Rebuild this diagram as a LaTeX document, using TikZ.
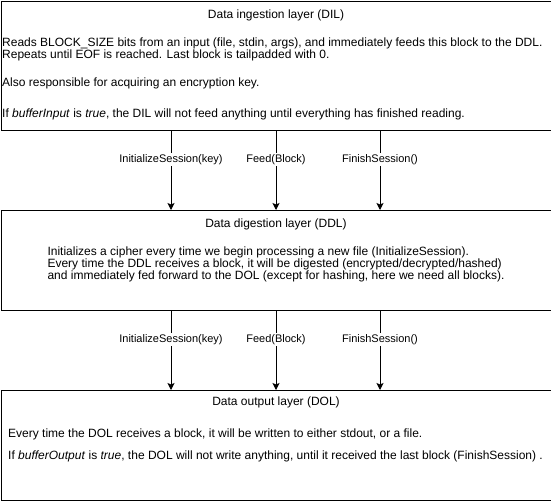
\documentclass[tikz,border=0pt]{standalone}
\usepackage{fontspec}
\setmainfont{Liberation Sans}
\usetikzlibrary{arrows.meta}
\begin{document}
\begin{tikzpicture}[x=1pt,y=-1pt,
  font=\fontsize{12}{13}\selectfont,
  layer/.style={draw, line width=1pt, minimum width=550pt, inner sep=0, anchor=north west},
  txt/.style={anchor=base west, inner sep=0},
  ttl/.style={anchor=base, inner sep=0},
  lbl/.style={fill=white, inner sep=1.5pt, font=\fontsize{11}{12}\selectfont},
  flow/.style={-{Stealth[length=7pt,width=7pt,inset=1.5pt]}, line width=1pt}]
\useasboundingbox (0,0) rectangle (551,501);
% layers
\node[layer, minimum height=129.5pt] (DIL) at (0.5,0.5) {};
\node[layer, minimum height=100pt] (DDL) at (0.5,210) {};
\node[layer, minimum height=109.5pt] (DOL) at (0.5,390) {};
% DIL text
\node[ttl] (dilT) at (276,18.5) {Data ingestion layer (DIL)};
\node[txt] (dil1) at (2,46.5) {Reads BLOCK\_SIZE bits from an input (file, stdin, args), and immediately feeds this block to the DDL.};
\node[txt] (dil2) at (2,58) {Repeats until EOF is reached. Last block is tailpadded with 0.};
\node[txt] (dil3) at (2,86) {Also responsible for acquiring an encryption key.};
\node[txt] (dil4) at (2,117.5) {If \textit{bufferInput} is \textit{true}, the DIL will not feed anything until everything has finished reading.};
% DDL text
\node[ttl] (ddlT) at (276,227.5) {Data digestion layer (DDL)};
\node[anchor=base, inner sep=0, align=left, font=\fontsize{12}{12}\selectfont] (ddl1) at (276,279.3) {Initializes a cipher every time we begin processing a new file (InitializeSession).\\
Every time the DDL receives a block, it will be digested (encrypted/decrypted/hashed)\\
and immediately fed forward to the DOL (except for hashing, here we need all blocks).};
% DOL text
\node[ttl] (dolT) at (276,405) {Data output layer (DOL)};
\node[txt] (dol1) at (8,437) {Every time the DOL receives a block, it will be written to either stdout, or a file.};
\node[txt] (dol2) at (8,459) {If \textit{bufferOutput} is \textit{true}, the DOL will not write anything, until it received the last block (FinishSession) .};
% arrow columns
\coordinate (ca) at (171,0);
\coordinate (cb) at (276,0);
\coordinate (cc) at (380,0);
% DIL -> DDL
\draw[flow] (DIL.south -| ca) -- node[lbl, pos=0.36] (l1) {InitializeSession(key)} (DDL.north -| ca);
\draw[flow] (DIL.south -| cb) -- node[lbl, pos=0.36] (l2) {Feed(Block)} (DDL.north -| cb);
\draw[flow] (DIL.south -| cc) -- node[lbl, pos=0.36] (l3) {FinishSession()} (DDL.north -| cc);
% DDL -> DOL
\draw[flow] (DDL.south -| ca) -- node[lbl, pos=0.36] (l4) {InitializeSession(key)} (DOL.north -| ca);
\draw[flow] (DDL.south -| cb) -- node[lbl, pos=0.36] (l5) {Feed(Block)} (DOL.north -| cb);
\draw[flow] (DDL.south -| cc) -- node[lbl, pos=0.36] (l6) {FinishSession()} (DOL.north -| cc);
\end{tikzpicture}
\end{document}
